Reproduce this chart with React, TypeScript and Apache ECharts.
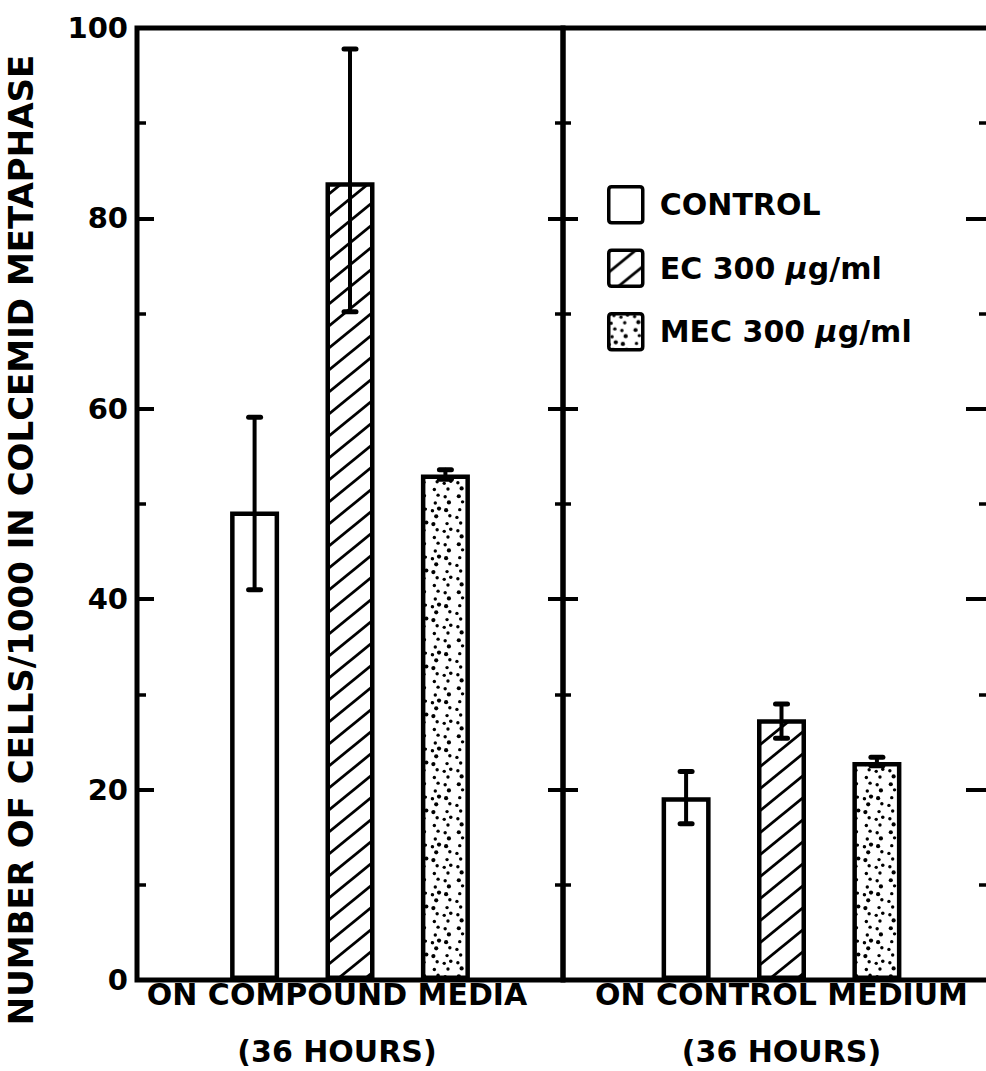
import React, { useEffect, useRef } from 'react';
import * as echarts from 'echarts';

const FONT = "'DejaVu Sans', sans-serif";
const Y_TITLE = 'NUMBER OF CELLS/1000 IN COLCEMID METAPHASE';
const GROUP_LEFT = ['ON COMPOUND MEDIA\n(36 HOURS)'];
const GROUP_RIGHT = ['ON CONTROL MEDIUM\n(36 HOURS)'];
const SERIES_NAMES = ['CONTROL', 'EC 300 μg/ml', 'MEC 300 μg/ml'];

const COMPOUND_MEANS = [49.2, 83.8, 53.1];
const COMPOUND_LOW = [41.0, 70.2, 52.6];
const COMPOUND_HIGH = [59.1, 97.8, 53.6];

const CONTROL_MEANS = [19.2, 27.4, 22.9];
const CONTROL_LOW = [16.4, 25.4, 22.5];
const CONTROL_HIGH = [21.9, 29.0, 23.4];

const Y_MIN = 0;
const Y_MAX = 100;
const Y_STEP = 20;

const BAR_W = 49;
const BAR_GAP = 0.947;

function makeHatch() {
  const w = 27, h = 22;
  const c = document.createElement('canvas');
  c.width = w; c.height = h;
  const ctx = c.getContext('2d')!;
  ctx.fillStyle = '#fff';
  ctx.fillRect(0, 0, w, h);
  ctx.strokeStyle = '#000';
  ctx.lineWidth = 2.8;
  for (let k = -1; k <= 1; k++) {
    ctx.beginPath();
    ctx.moveTo(k * w - w, 2 * h);
    ctx.lineTo(k * w + 2 * w, -h);
    ctx.stroke();
  }
  return { image: c, repeat: 'repeat', imageWidth: w, imageHeight: h } as any;
}

function makeStipple() {
  const s = 48;
  const c = document.createElement('canvas');
  c.width = s; c.height = s;
  const ctx = c.getContext('2d')!;
  ctx.fillStyle = '#fff';
  ctx.fillRect(0, 0, s, s);
  ctx.fillStyle = '#000';
  const a1 = 0.7548776662466927, a2 = 0.5698402909980532;
  for (let i = 1; i <= 30; i++) {
    const x = ((0.5 + a1 * i) % 1) * s;
    const y = ((0.5 + a2 * i) % 1) * s;
    const r = i % 3 === 0 ? 2.1 : 1.7;
    for (let dx = -1; dx <= 1; dx++) {
      for (let dy = -1; dy <= 1; dy++) {
        ctx.beginPath();
        ctx.arc(x + dx * s, y + dy * s, r, 0, Math.PI * 2);
        ctx.fill();
      }
    }
  }
  return { image: c, repeat: 'repeat', imageWidth: s, imageHeight: s } as any;
}

const LEGEND_ICON = 'path://M3,0 H31 Q34,0 34,3 V33 Q34,36 31,36 H3 Q0,36 0,33 V3 Q0,0 3,0 Z';

export default function App() {
  const ref = useRef<HTMLDivElement>(null);
  useEffect(() => {
    if (!ref.current) return;
    const chart = echarts.init(ref.current, undefined, { renderer: 'svg' });
    const fills = ['#ffffff', makeHatch(), makeStipple()];

    const yAxisBase = (gridIndex: number, position: string, major: number, minor: number, labels: boolean) => ({
      type: 'value',
      gridIndex,
      position,
      min: Y_MIN,
      max: Y_MAX,
      interval: Y_STEP,
      axisLine: { show: false },
      splitLine: { show: false },
      axisTick: { show: true, inside: true, length: major, lineStyle: { color: '#000', width: 4 } },
      minorTick: { show: true, splitNumber: 2, length: minor, lineStyle: { color: '#000', width: 3.5 } },
      axisLabel: { show: labels, color: '#000', fontSize: 29, fontWeight: 'bold', fontFamily: FONT, margin: 9 },
    });

    const xAxisBase = (gridIndex: number, data: string[], pad: number) => ({
      type: 'category',
      gridIndex,
      data,
      axisLine: { show: false },
      axisTick: { show: false },
      splitLine: { show: false },
      axisLabel: {
        color: '#000',
        fontSize: 30,
        fontWeight: 'bold',
        fontFamily: FONT,
        lineHeight: 57,
        margin: -14,
        padding: [0, pad, 0, 0],
        interval: 0,
      },
    });

    const barSeries = (values: number[], xi: number, yi: number) =>
      values.map((v, i) => ({
        type: 'bar',
        name: SERIES_NAMES[i],
        xAxisIndex: xi,
        yAxisIndex: yi,
        data: [v],
        barWidth: BAR_W,
        barGap: `${Math.round(BAR_GAP * 1000) / 10}%`,
        itemStyle: { color: fills[i], borderColor: '#000', borderWidth: 4.5 },
        emphasis: { disabled: true },
      }));

    const spacing = BAR_W * (1 + BAR_GAP);
    const errSeries = (low: number[], high: number[], xi: number, yi: number) => ({
      type: 'custom',
      xAxisIndex: xi,
      yAxisIndex: yi,
      z: 10,
      data: low.map((l, i) => [0, l, high[i], i]),
      encode: { x: 0, y: [1, 2] },
      renderItem: (_p: any, api: any) => {
        const lo = api.coord([api.value(0), api.value(1)]);
        const hi = api.coord([api.value(0), api.value(2)]);
        const x = lo[0] + (api.value(3) - 1) * spacing;
        const cap = 6;
        const st = { stroke: '#000', lineWidth: 4, lineCap: 'round' };
        return {
          type: 'group',
          children: [
            { type: 'line', shape: { x1: x, y1: hi[1], x2: x, y2: lo[1] }, style: st },
            { type: 'line', shape: { x1: x - cap, y1: hi[1], x2: x + cap, y2: hi[1] }, style: { ...st, lineWidth: 5 } },
            { type: 'line', shape: { x1: x - cap, y1: lo[1], x2: x + cap, y2: lo[1] }, style: { ...st, lineWidth: 5 } },
          ],
        };
      },
    });

    const gridBase = { top: 28, height: 952, show: true, borderColor: '#000', borderWidth: 5, backgroundColor: 'transparent', containLabel: false, outerBoundsMode: 'none' };

    chart.setOption({
      animation: false,
      backgroundColor: '#fff',
      grid: [
        { ...gridBase, left: 137, width: 426 },
        { ...gridBase, left: 563, width: 437 },
      ],
      xAxis: [xAxisBase(0, GROUP_LEFT, 26), xAxisBase(1, GROUP_RIGHT, 0)],
      yAxis: [
        yAxisBase(0, 'left', 17, 9, true),
        yAxisBase(0, 'right', 15, 8, false),
        yAxisBase(1, 'left', 15, 8, false),
        yAxisBase(1, 'right', 34, 21, false),
      ],
      legend: {
        data: SERIES_NAMES,
        orient: 'vertical',
        left: 607,
        top: 185,
        padding: 0,
        itemWidth: 34,
        itemHeight: 36,
        itemGap: 24,
        icon: LEGEND_ICON,
        selectedMode: false,
        itemStyle: { borderColor: '#000', borderWidth: 3.5 },
        formatter: (name: string) => name.replace('μ', '{mu|μ}'),
        textStyle: {
          color: '#000',
          fontSize: 30,
          fontWeight: 'bold',
          fontFamily: FONT,
          padding: [0, 0, 0, 12],
          rich: { mu: { fontStyle: 'italic', fontWeight: 'bold', fontSize: 30, fontFamily: FONT, color: '#000' } },
        },
      },
      graphic: [
        {
          type: 'text',
          x: 21,
          y: 540,
          rotation: Math.PI / 2,
          style: {
            text: Y_TITLE,
            fill: '#000',
            fontSize: 34,
            fontWeight: 'bold',
            fontFamily: FONT,
            align: 'center',
            verticalAlign: 'middle',
            textAlign: 'center',
            textVerticalAlign: 'middle',
          },
        },
      ],
      series: [
        ...barSeries(COMPOUND_MEANS, 0, 0),
        ...barSeries(CONTROL_MEANS, 1, 2),
        errSeries(COMPOUND_LOW, COMPOUND_HIGH, 0, 0),
        errSeries(CONTROL_LOW, CONTROL_HIGH, 1, 2),
      ],
    } as any);
    return () => chart.dispose();
  }, []);

  return (
    <div style={{ position: 'fixed', left: 0, top: 0, width: 986, height: 1071, overflow: 'hidden', background: '#fff' }}>
      <div ref={ref} style={{ width: 1010, height: 1071 }} />
    </div>
  );
}
